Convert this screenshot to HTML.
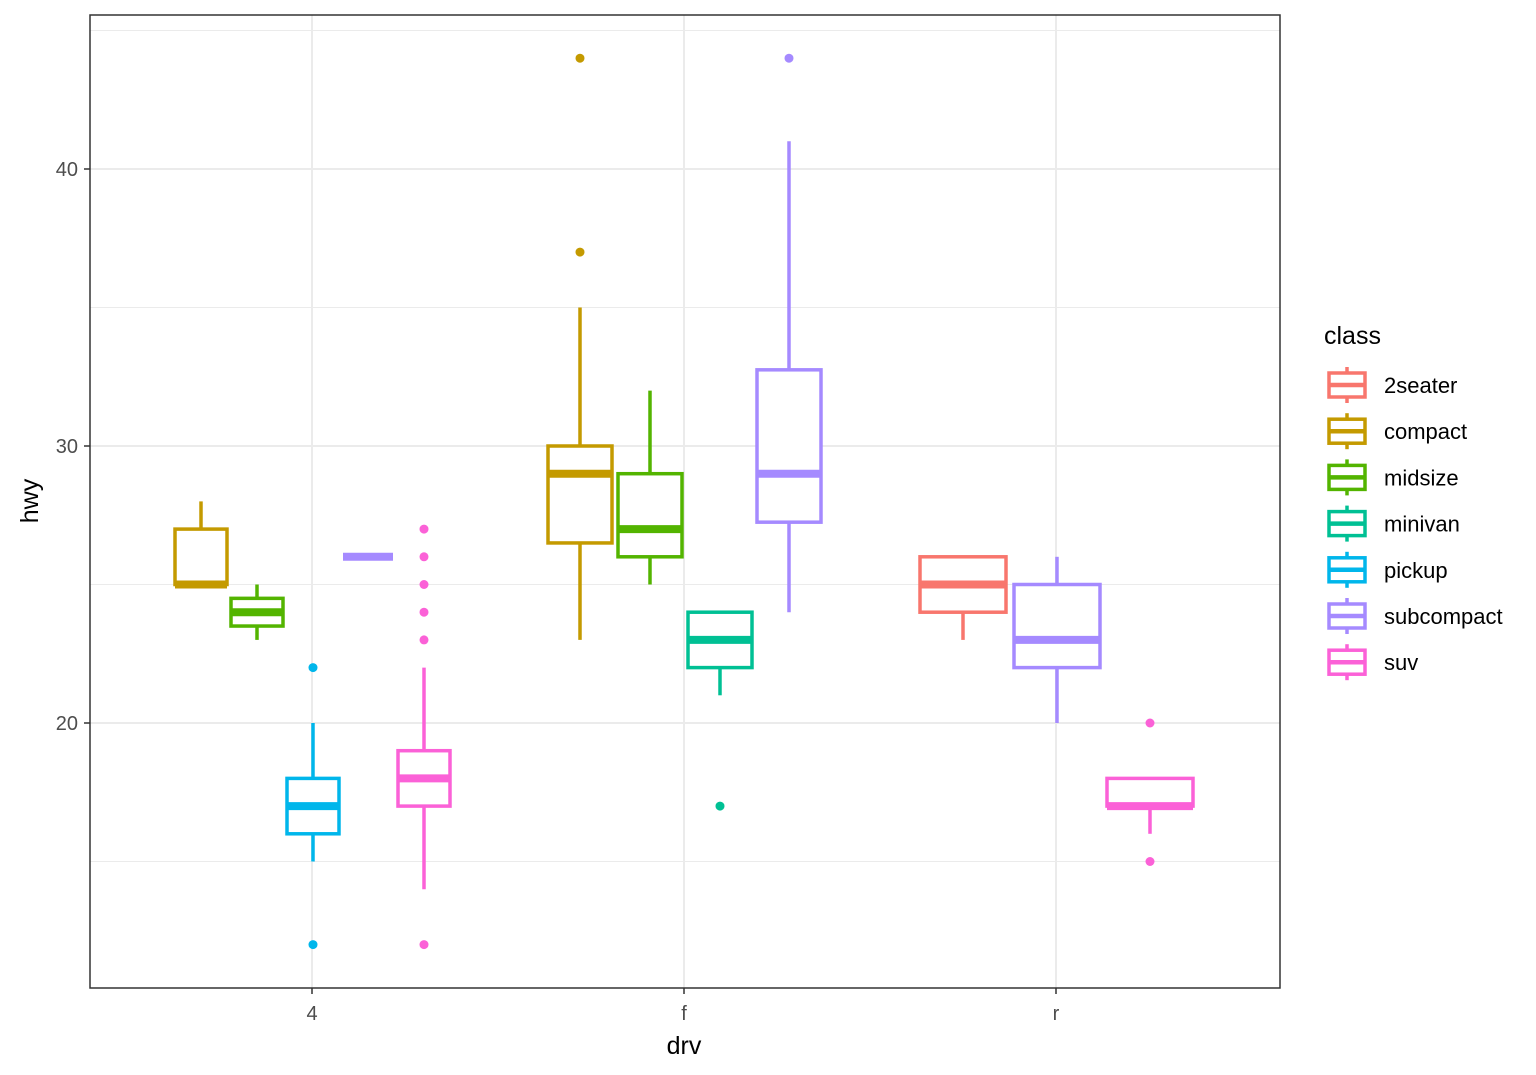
<!DOCTYPE html>
<html><head><meta charset="utf-8"><style>body{margin:0;background:#fff}svg{display:block;font-family:"Liberation Sans",sans-serif}</style></head>
<body><svg id="s" width="1536" height="1075" xmlns="http://www.w3.org/2000/svg"></svg>
<script>
const s=document.getElementById('s');let h='';
const Y=v=>723-(v-20)*27.7;
h+='<rect x="90" y="15" width="1190" height="973" fill="#fff"/>';
[15,25,35,45].forEach(v=>h+=`<line x1="90" x2="1280" y1="${Y(v)}" y2="${Y(v)}" stroke="#ebebeb" stroke-width="1"/>`);
[20,30,40].forEach(v=>h+=`<line x1="90" x2="1280" y1="${Y(v)}" y2="${Y(v)}" stroke="#ebebeb" stroke-width="2"/>`);
[312,684,1056].forEach(x=>h+=`<line x1="${x}" x2="${x}" y1="15" y2="988" stroke="#ebebeb" stroke-width="2"/>`);
const C={a:'#F8766D',c:'#C49A00',m:'#53B400',n:'#00C094',p:'#00B6EB',s:'#A58AFF',u:'#FB61D7'};
const B=[
['c',175,227,25,25,27,25,28,[]],
['m',231,283,23,23.5,24.5,24,25,[]],
['p',287,339,15,16,18,17,20,[22,12]],
['s',343,393,26,26,26,26,26,[]],
['u',398,450,14,17,19,18,22,[27,26,25,24,23,12]],
['c',548,612,23,26.5,30,29,35,[37,44]],
['m',618,682,25,26,29,27,32,[]],
['n',688,752,21,22,24,23,24,[17]],
['s',757,821,24,27.25,32.75,29,41,[44]],
['a',920,1006,23,24,26,25,26,[]],
['s',1014,1100,20,22,25,23,26,[]],
['u',1107,1193,16,17,18,17,18,[20,15]]];
B.forEach(([k,x1,x2,lo,q1,q3,md,hi,out])=>{const c=C[k],xm=(x1+x2)/2;
h+=`<line x1="${xm}" x2="${xm}" y1="${Y(hi)}" y2="${Y(q3)}" stroke="${c}" stroke-width="3.5"/>`;
h+=`<line x1="${xm}" x2="${xm}" y1="${Y(q1)}" y2="${Y(lo)}" stroke="${c}" stroke-width="3.5"/>`;
h+=`<rect x="${x1}" y="${Y(q3)}" width="${x2-x1}" height="${Y(q1)-Y(q3)}" fill="#fff" stroke="${c}" stroke-width="3.5"/>`;
h+=`<line x1="${x1}" x2="${x2}" y1="${Y(md)}" y2="${Y(md)}" stroke="${c}" stroke-width="8"/>`;
out.forEach(o=>h+=`<circle cx="${xm}" cy="${Y(o)}" r="4.5" fill="${c}"/>`);});
h+='<rect x="90" y="15" width="1190" height="973" fill="none" stroke="#333" stroke-width="1.5"/>';
[[20,'20'],[30,'30'],[40,'40']].forEach(([v,t])=>{h+=`<line x1="84" x2="90" y1="${Y(v)}" y2="${Y(v)}" stroke="#333" stroke-width="1.5"/><text x="78" y="${Y(v)+7}" font-size="20" fill="#4d4d4d" text-anchor="end">${t}</text>`});
[[312,'4'],[684,'f'],[1056,'r']].forEach(([x,t])=>{h+=`<line x1="${x}" x2="${x}" y1="988" y2="994" stroke="#333" stroke-width="1.5"/><text x="${x}" y="1020" font-size="20" fill="#4d4d4d" text-anchor="middle">${t}</text>`});
h+='<text x="684" y="1054" font-size="25" text-anchor="middle">drv</text>';
h+='<text transform="translate(38,501) rotate(-90)" font-size="25" text-anchor="middle">hwy</text>';
h+='<text x="1324" y="344" font-size="25">class</text>';
[['a','2seater'],['c','compact'],['m','midsize'],['n','minivan'],['p','pickup'],['s','subcompact'],['u','suv']].forEach(([k,t],i)=>{const cy=385+i*46.2,c=C[k];
h+=`<line x1="1347" x2="1347" y1="${cy-18}" y2="${cy+18}" stroke="${c}" stroke-width="3.5"/><rect x="1329" y="${cy-12}" width="36" height="24" fill="#fff" stroke="${c}" stroke-width="3.5"/><line x1="1329" x2="1365" y1="${cy}" y2="${cy}" stroke="${c}" stroke-width="4.5"/><text x="1384" y="${cy+8}" font-size="22">${t}</text>`});
s.innerHTML=h;
</script></body></html>
